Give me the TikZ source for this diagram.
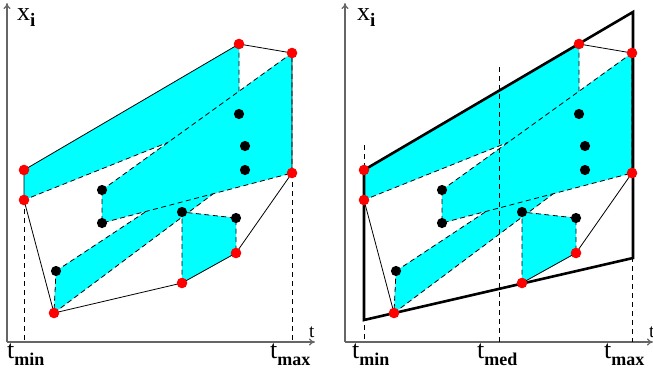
\documentclass[tikz,border=0pt]{standalone}
\usepackage{fontspec}
\setmainfont{Liberation Serif}
\usetikzlibrary{arrows.meta}
\definecolor{bandcyan}{HTML}{00FFFF}
\definecolor{axisgray}{HTML}{666666}
\tikzset{
  band/.style={fill=bandcyan},
  bandedge/.style={draw=black,line width=0.8pt,dash pattern=on 5pt off 3.5pt},
  hull/.style={draw=black,line width=0.8pt},
  guide/.style={draw=black,line width=0.8pt,dash pattern=on 5pt off 4pt},
  thickhull/.style={draw=black,line width=2.6pt,line join=miter},
  axis/.style={draw=axisgray,line width=1.1pt,-{To[length=6pt,width=7pt]}},
  reddot/.style={fill=red},
  blackdot/.style={fill=black},
  lab/.style={anchor=base west,inner sep=0pt,font=\fontsize{26}{26}\selectfont},
  tlab/.style={anchor=base west,inner sep=0pt,font=\fontsize{19}{19}\selectfont},
}
\newcommand\sublab[1]{\raisebox{-7pt}{\fontsize{18}{18}\selectfont\bfseries #1}}
\newcommand\panelcoords[1]{%
  \coordinate (#1A) at (24,170);
  \coordinate (#1B) at (24,200);
  \coordinate (#1C) at (54,313);
  \coordinate (#1D) at (182,283);
  \coordinate (#1E) at (236,253);
  \coordinate (#1F) at (292,173);
  \coordinate (#1G) at (292,53);
  \coordinate (#1H) at (239,44);
  \coordinate (#1K1) at (56,271);
  \coordinate (#1K2) at (102,190);
  \coordinate (#1K3) at (102,223);
  \coordinate (#1K4) at (182,212);
  \coordinate (#1K5) at (236,218);
  \coordinate (#1K6) at (239,114);
  \coordinate (#1K7) at (245,146);
  \coordinate (#1K8) at (245,170);
}
\newcommand\panelbands[1]{%
  % band 1
  \fill[band] (#1A)--(#1H)--(#1K6)--(#1B)--cycle;
  \draw[bandedge] (#1H)--(#1K6)--(#1B);
  % band 3
  \fill[band] (#1K1)--(#1K7)--(#1K8)--(#1C)--cycle;
  \draw[bandedge] (#1K1)--(#1K7)--(#1K8)--(#1C)--cycle;
  % band 2
  \fill[band] (#1K2)--(#1G)--(#1F)--(#1K3)--cycle;
  \draw[bandedge] (#1K2)--(#1G)--(#1F)--(#1K3)--cycle;
  % band 4
  \fill[band] (#1K4)--(#1K5)--(#1E)--(#1D)--cycle;
  \draw[bandedge] (#1D)--(#1K4)--(#1K5)--(#1E);
  % hull
  \draw[hull] (#1A)--(#1H)--(#1G)--(#1F)--(#1E)--(#1D)--(#1C)--(#1B)--cycle;
}
\newcommand\panelpoints[1]{%
  \foreach \p in {A,B,C,D,E,F,G,H} {\fill[reddot] (#1\p) circle (5.3pt);}
  \foreach \p in {K1,K2,K3,K4,K5,K6,K7,K8} {\fill[blackdot] (#1\p) circle (5.1pt);}
}
\begin{document}
\begin{tikzpicture}[x=1pt,y=-1pt]
\useasboundingbox (0,0) rectangle (653,373);
% ---------- left panel ----------
\coordinate (LO) at (7,342);
\coordinate (LY) at (7,3);
\coordinate (LX) at (315,342);
\draw[axis] (LO) -- (LY);
\draw[axis] (LO) -- (LX);
\panelcoords{L}
\panelbands{L}
\coordinate (LBt) at (24,342);
\coordinate (LFt) at (292,342);
\draw[guide] (LB) -- (LBt);
\draw[guide] (LF) -- (LFt);
\panelpoints{L}
\node[lab] (Lxi) at (17,20) {x\raisebox{-6pt}{\fontsize{19}{19}\selectfont\bfseries i}};
\node[tlab] (Lt) at (309,337) {t};
\node[lab] (Ltmin) at (7,358) {t\sublab{min}};
\node[lab] (Ltmax) at (270,358) {t\sublab{max}};
% ---------- right panel ----------
\coordinate (RO) at (345,342);
\coordinate (RY) at (345,3);
\coordinate (RX) at (653,342);
\draw[axis] (RO) -- (RY);
\draw[axis] (RO) -- (RX);
\begin{scope}[xshift=340pt]
\panelcoords{R}
\panelbands{R}
\coordinate (RP1) at (24,320);
\coordinate (RP2) at (293,12);
\coordinate (RP3) at (293,258);
\coordinate (Rtmin0) at (24,145);
\coordinate (Rtmin1) at (24,342);
\coordinate (Rtmed0) at (159,67);
\coordinate (Rtmed1) at (159,342);
\coordinate (Rtmax0) at (292,14);
\coordinate (Rtmax1) at (292,342);
\end{scope}
\draw[guide] (Rtmin0) -- (Rtmin1);
\draw[guide] (Rtmed0) -- (Rtmed1);
\draw[guide] (Rtmax0) -- (Rtmax1);
\draw[thickhull] (RP1) -- (RA) -- (RP2) -- (RP3) -- cycle;
\panelpoints{R}
\node[lab] (Rxi) at (357,20) {x\raisebox{-6pt}{\fontsize{19}{19}\selectfont\bfseries i}};
\node[tlab] (Rt) at (649,337) {t};
\node[lab] (Rtmin) at (352,358) {t\sublab{min}};
\node[lab] (Rtmed) at (477,358) {t\sublab{med}};
\node[lab] (Rtmax) at (604,358) {t\sublab{max}};
\end{tikzpicture}
\end{document}
